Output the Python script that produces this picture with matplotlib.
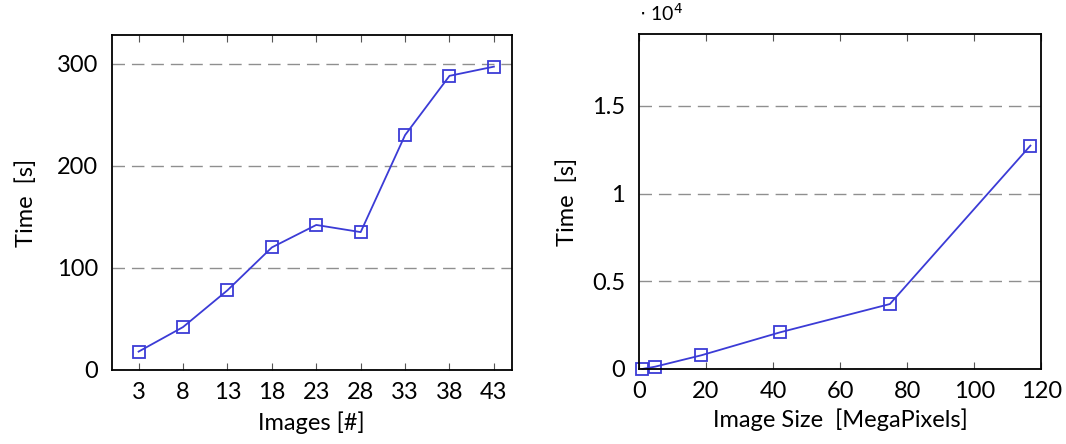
import numpy as np
import matplotlib.pyplot as plt

plt.rcParams['font.family'] = ['Lato', 'DejaVu Sans']

# left panel: time vs number of images
images = [3, 8, 13, 18, 23, 28, 33, 38, 43]
time_images = [18, 42, 78, 120, 142, 135, 230, 288, 297]

# right panel: time vs image size (seconds)
size_mp = [1.0, 4.8, 18.6, 42.1, 74.8, 116.7]
time_size = [0, 130, 780, 2090, 3700, 12730]

line_col = '#3b3bd6'
grid_col = '#8f8f8f'

fig = plt.figure(figsize=(10.66, 4.44), dpi=100)
ax1 = fig.add_axes([0.105, 0.1667, 0.375, 0.7545])
ax2 = fig.add_axes([0.5994, 0.169, 0.3776, 0.754])

def style(ax):
    for s in ax.spines.values():
        s.set_linewidth(1.3)
        s.set_color('black')
    ax.tick_params(axis='x', direction='in', top=True, length=5, width=0.8,
                   color='#555555', labelsize=17, pad=9)
    ax.tick_params(axis='y', length=0, labelsize=17, pad=10)
    ax.yaxis.grid(True, linestyle=(0, (9, 5)), color=grid_col, linewidth=1)
    ax.set_axisbelow(True)

ax1.plot(images, time_images, color=line_col, linewidth=1.3, marker='s',
         markersize=8, markerfacecolor='none', markeredgecolor=line_col,
         markeredgewidth=1.3, clip_on=False)
ax1.set_xlim(0, 45)
ax1.set_ylim(0, 328)
ax1.set_xticks(images)
ax1.set_yticks([0, 100, 200, 300])
style(ax1)
ax1.set_xlabel('Images [#]', fontsize=17, labelpad=6)
ax1.set_ylabel('Time  [s]', fontsize=17, labelpad=14)

ax2.plot(size_mp, np.array(time_size) / 1e4, color=line_col, linewidth=1.3,
         marker='s', markersize=8, markerfacecolor='none',
         markeredgecolor=line_col, markeredgewidth=1.3, clip_on=False)
ax2.set_xlim(0, 120)
ax2.set_ylim(0, 1.908)
ax2.set_xticks([0, 20, 40, 60, 80, 100, 120])
ax2.set_yticks([0, 0.5, 1, 1.5])
ax2.set_yticklabels(['0', '0.5', '1', '1.5'])
style(ax2)
ax2.set_xlabel('Image Size  [MegaPixels]', fontsize=17, labelpad=4)
ax2.set_ylabel('Time  [s]', fontsize=17, labelpad=10)
ax2.text(0.0, 1.03, '$\\cdot$ 10$^4$', transform=ax2.transAxes, fontsize=14,
         ha='left', va='bottom')

fig.savefig('out.png', dpi=100)
